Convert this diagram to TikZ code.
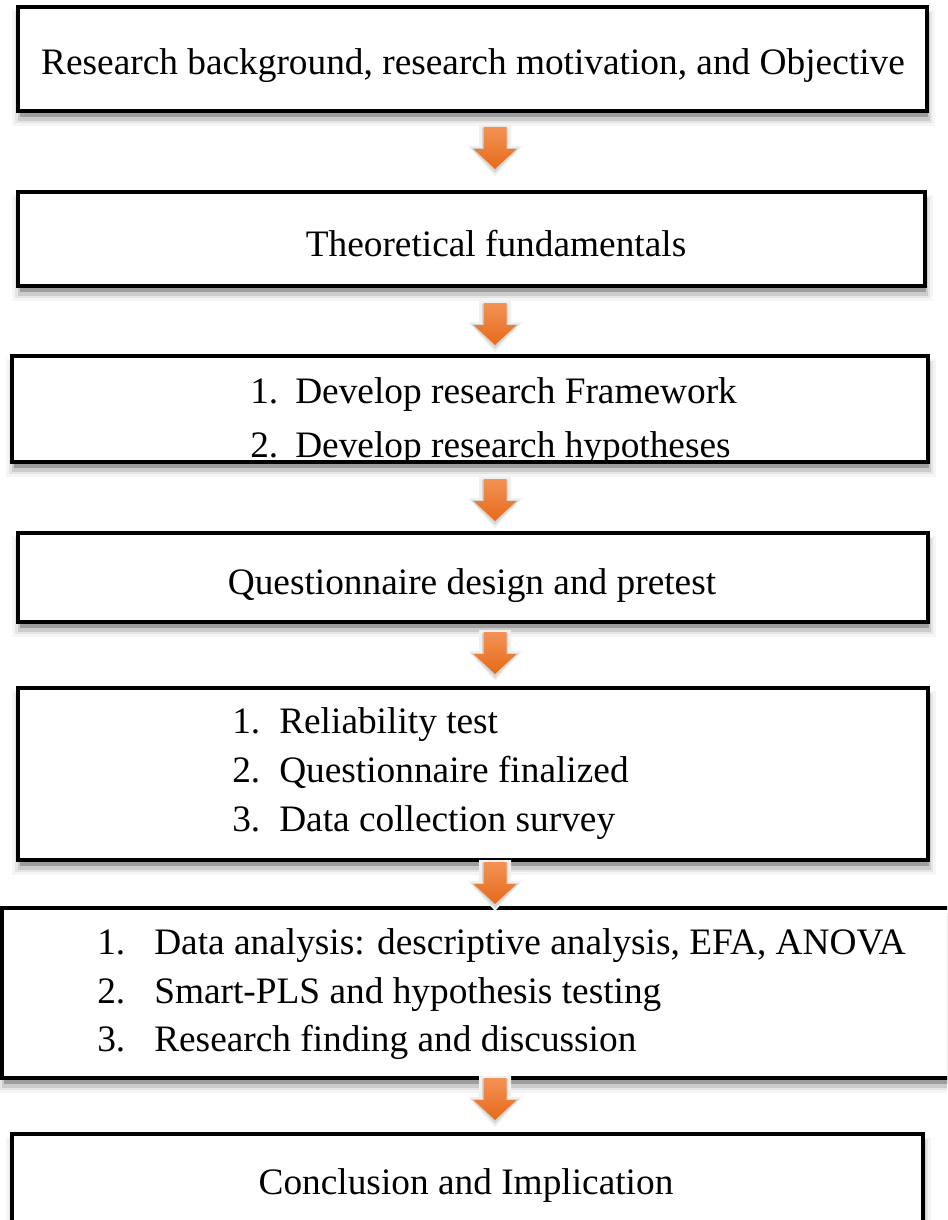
\documentclass[tikz,border=0pt]{standalone}
\usepackage{fontspec}
\setmainfont{Liberation Serif}
\usetikzlibrary{calc,fit}

\definecolor{arrowtop}{RGB}{243,146,86}
\definecolor{arrowbot}{RGB}{230,106,24}

% stage box with a soft grey shadow: name, x1, y1, x2, y2 (pixel units)
\newcommand\stagebox[5]{%
  \fill[black!4]  (#2-6,#3+3) rectangle (#4+8,#5+15);
  \fill[black!10] (#2-3,#3+5) rectangle (#4+5,#5+12);
  \fill[black!20] (#2,#3+5)   rectangle (#4+3,#5+10);
  \fill[black!38] (#2+2,#3+5) rectangle (#4+1,#5+6);
  \node[box, fit={(#2,#3) (#4,#5)}] (#1) {};
}

\tikzset{
  box/.style={draw=black, line width=2.3pt, fill=white, inner sep=0pt},
  label/.style={font=\fontsize{28}{33}\selectfont, inner sep=0pt, anchor=base},
  item/.style={label, anchor=base west},
  downarrow/.pic={
    \fill[black!6]  (-16,-2) -- (16,-2) -- (16,19) -- (27,19) -- (0,49) -- (-27,19) -- (-16,19) -- cycle;
    \fill[black!16] (-13,1) -- (13,1) -- (13,21) -- (24,21) -- (0,46) -- (-24,21) -- (-13,21) -- cycle;
    \shade[top color=arrowtop, bottom color=arrowbot]
      (-11.5,0) -- (11.5,0) -- (11.5,22) -- (21.5,22) -- (0,42) -- (-21.5,22) -- (-11.5,22) -- cycle;
  }
}

\begin{document}
\begin{tikzpicture}[x=0.75pt,y=-0.75pt]
\useasboundingbox (0,0) rectangle (947,1220);
\clip (0,0) rectangle (947,1220);
\fill[white] (0,0) rectangle (947,1220);

% stages
\stagebox{b1}{18}{7}{927}{111}
\stagebox{b2}{18}{192}{925}{286}
\stagebox{b3}{12}{356}{928}{462}
\stagebox{b4}{18}{533}{928}{622}
\stagebox{b5}{18}{688}{928}{860}
\stagebox{b6}{2}{908}{960}{1078}
\stagebox{b7}{12}{1134}{923}{1240}

% arrows between the stages
\coordinate (a1) at (495,127);
\coordinate (a2) at (495,303);
\coordinate (a3) at (495,479);
\coordinate (a4) at (495,632);
\coordinate (a5) at (495,862);
\coordinate (a6) at (495,1078);
\foreach \a in {a1,a2,a3,a4,a5,a6} { \pic at (\a) {downarrow}; }

% texts
\node[label] (t1) at (473,75) {Research background, research motivation, and Objective};
\node[label] (t2) at (496,256) {Theoretical fundamentals};

\begin{scope}
  \clip (12,356) rectangle (928,459.5);
  \node[item] (t3a) at (250,403) {1.};
  \node[item] (t3b) at (295,403) {Develop research Framework};
  \node[item] (t3c) at (250,457) {2.};
  \node[item] (t3d) at (295,457) {Develop research hypotheses};
\end{scope}

\node[label] (t4) at (472,594) {Questionnaire design and pretest};

\node[item] (t5a) at (232,733) {1.};
\node[item] (t5b) at (279,733) {Reliability test};
\node[item] (t5c) at (232,782) {2.};
\node[item] (t5d) at (279,782) {Questionnaire finalized};
\node[item] (t5e) at (232,831) {3.};
\node[item] (t5f) at (279,831) {Data collection survey};

\node[item] (t6a) at (97,954) {1.};
\node[item] (t6b) at (154,954) {Data analysis: descriptive analysis, EFA, ANOVA};
\node[item] (t6c) at (97,1003) {2.};
\node[item] (t6d) at (154,1003) {Smart-PLS and hypothesis testing};
\node[item] (t6e) at (97,1051) {3.};
\node[item] (t6f) at (154,1051) {Research finding and discussion};

\node[label] (t7) at (466,1194) {Conclusion and Implication};
\end{tikzpicture}
\end{document}
